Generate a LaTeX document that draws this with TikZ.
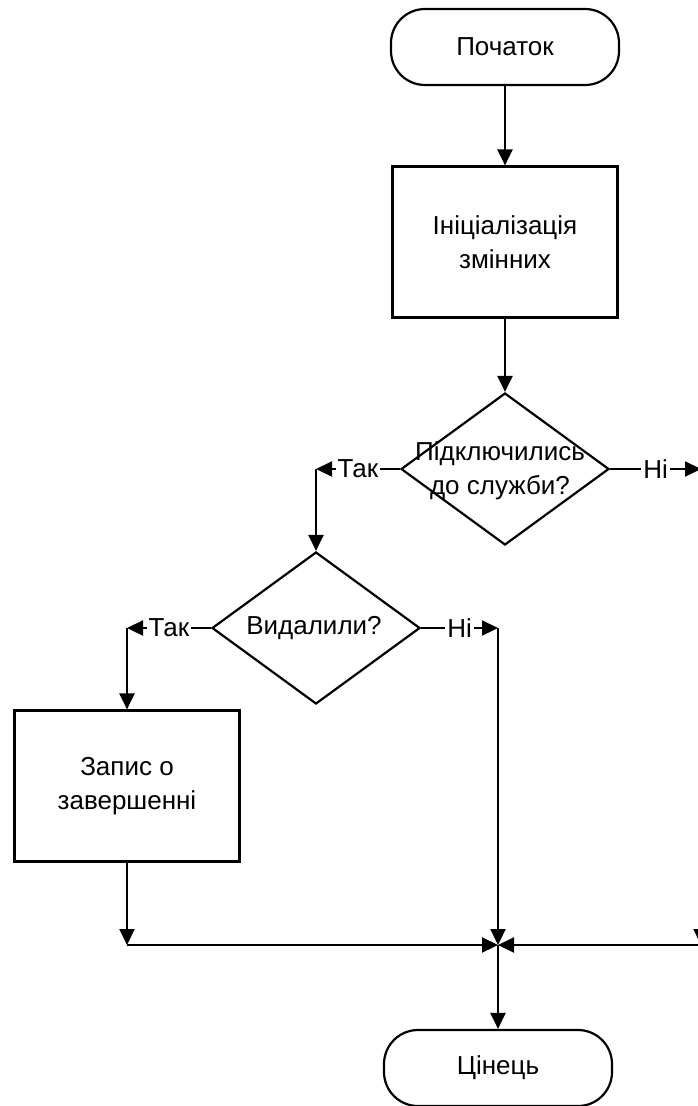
\documentclass[tikz,border=0pt]{standalone}
\usepackage{fontspec}
\setmainfont{Liberation Sans}
\usetikzlibrary{arrows.meta,shapes.geometric}
\begin{document}
\begin{tikzpicture}[x=1pt,y=-1pt,
 every node/.style={font=\fontsize{26}{34}\selectfont, text=black},
 arr/.style={line width=2.2pt, draw=black, -{Triangle[length=16pt,width=15pt]}},
 term/.style={draw, line width=2.2pt, rounded corners=34pt, minimum width=228pt, minimum height=76pt, inner sep=0pt},
 proc/.style={draw, line width=2.2pt, minimum width=225pt, minimum height=151pt, inner sep=0pt, align=center},
 dec/.style={draw, diamond, line width=2.2pt, minimum width=208pt, minimum height=152pt, inner sep=0pt},
 lbl/.style={fill=white, inner sep=2pt}
]
\useasboundingbox (0,0) rectangle (698,1106);
\clip (0,0) rectangle (698,1106);
\node[term] (start) at (505,47) {Початок};
\node[proc] (init) at (505,242) {Ініціалізація\\змінних};
\node[dec] (d1) at (505,469) {};
\node[align=center] (d1t) at (500,471) {Підключились\\до служби?};
\node[dec] (d2) at (316,628) {};
\node (d2t) at (314,628) {Видалили?};
\node[proc] (rec) at (127,786) {Запис о\\завершенні};
\node[term] (fin) at (498,1068) {Цінець};
\coordinate (c1) at (316,469);
\coordinate (c2) at (701,469);
\coordinate (c4) at (127,628);
\coordinate (c5) at (498,628);
\coordinate (c6) at (127,945);
\coordinate (j) at (498,945);
\coordinate (r) at (701,945);
\draw[arr] (start.south) -- (init.north);
\draw[arr] (init.south) -- (d1.north);
\draw[arr] (d1.west) -- node[lbl]{Так} (c1);
\draw[arr] (c1) -- (d2.north);
\draw[arr] (d1.east) -- node[lbl]{Ні} (c2);
\draw[arr] (c2) -- (r);
\draw[arr] (r) -- (j);
\draw[arr] (d2.west) -- node[lbl]{Так} (c4);
\draw[arr] (c4) -- (rec.north);
\draw[arr] (d2.east) -- node[lbl]{Ні} (c5);
\draw[arr] (c5) -- (j);
\draw[arr] (rec.south) -- (c6);
\draw[arr] (c6) -- (j);
\draw[arr] (j) -- (fin.north);
\end{tikzpicture}
\end{document}
